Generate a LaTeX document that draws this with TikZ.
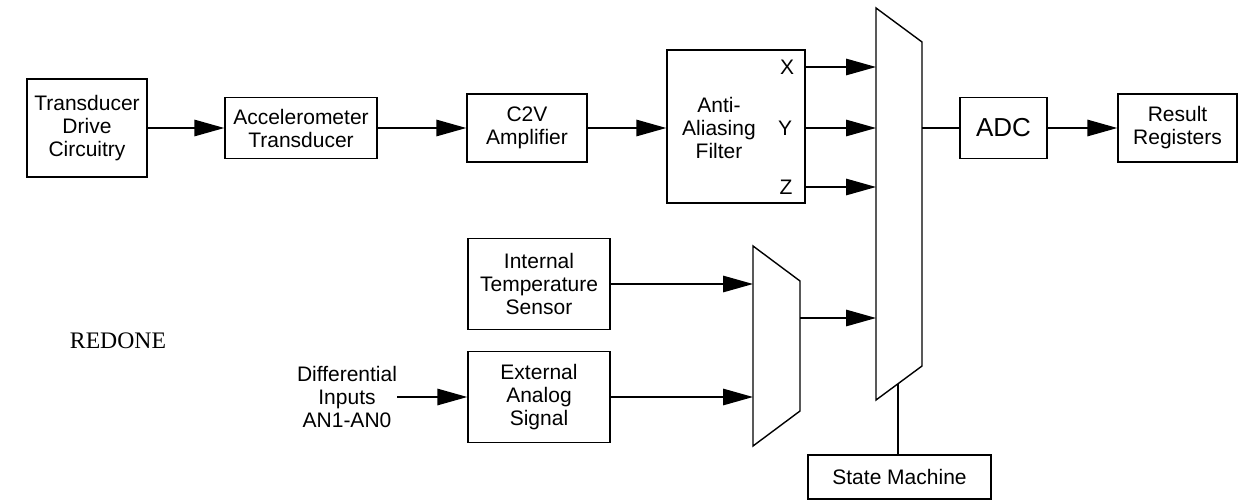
\documentclass[tikz,border=0pt]{standalone}
\usepackage{fontspec}
\setmainfont{Liberation Sans}
\newfontfamily\serifrm{Liberation Serif}
\usetikzlibrary{arrows.meta}
\begin{document}
\begin{tikzpicture}[x=1pt,y=-1pt,
  box/.style={draw,line width=1.4pt,inner sep=0pt,align=center,font=\fontsize{21}{23}\selectfont},
  lbl/.style={inner sep=0pt,align=center,font=\fontsize{21}{23}\selectfont},
  arr/.style={line width=1.4pt,-{Triangle[length=30pt,width=16.5pt]}},
  wire/.style={line width=1.4pt}]
\useasboundingbox (0,0) rectangle (1241,500);
% top chain
\node[box,minimum width=120pt,minimum height=98pt] (td) at (87,128) {Transducer\\Drive\\Circuitry};
\node[box,minimum width=152pt,minimum height=61pt] (acc) at (301,128) {Accelerometer\\Transducer};
\node[box,minimum width=120pt,minimum height=68pt] (c2v) at (527,128) {C2V\\Amplifier};
\node[box,minimum width=138pt,minimum height=153pt] (aaf) at (736,126.5) {};
\node[lbl] (aaftxt) at (719,128) {Anti-\\Aliasing\\Filter};
\node[lbl] (lx) at (787,67) {X};
\node[lbl] (ly) at (785,128) {Y};
\node[lbl] (lz) at (786,187) {Z};
\node[box,minimum width=87pt,minimum height=61pt,font=\fontsize{26}{28}\selectfont] (adc) at (1003.5,128) {ADC};
\node[box,minimum width=119pt,minimum height=68pt] (rr) at (1177.5,128) {Result\\Registers};
% lower
\node[box,minimum width=142pt,minimum height=91pt] (its) at (539,284) {Internal\\Temperature\\Sensor};
\node[box,minimum width=142pt,minimum height=91pt] (eas) at (539,397) {External\\Analog\\Signal};
\node[lbl] (diff) at (347,397) {Differential\\Inputs\\AN1-AN0};
\node[box,minimum width=183pt,minimum height=44pt] (sm) at (899.5,477) {State Machine};
\node[inner sep=0pt,font=\serifrm\fontsize{23.7}{26}\selectfont] (redone) at (118,341) {REDONE};
% big mux
\draw[wire] (876,8) -- (922,42) -- (922,366) -- (876,400) -- cycle;
\coordinate (bmX) at (876,67);
\coordinate (bmY) at (876,128);
\coordinate (bmZ) at (876,187);
\coordinate (bmT) at (876,318);
\coordinate (bmout) at (922,128);
\coordinate (bmbot) at (898,383.7);
% small mux
\draw[wire] (753,246) -- (800,281) -- (800,411) -- (753,446) -- cycle;
\coordinate (smA) at (753,284);
\coordinate (smB) at (753,397);
\coordinate (smout) at (800,318);
% connectors
\draw[arr] (td.east) -- (acc.west);
\draw[arr] (acc.east) -- (c2v.west);
\draw[arr] (c2v.east) -- (c2v.east -| aaf.west);
\draw[arr] (aaf.east |- bmX) -- (bmX);
\draw[arr] (aaf.east |- bmY) -- (bmY);
\draw[arr] (aaf.east |- bmZ) -- (bmZ);
\draw[wire] (bmout) -- (adc.west);
\draw[arr] (adc.east) -- (rr.west);
\draw[arr] (its.east) -- (smA);
\draw[arr] (eas.east) -- (smB);
\draw[arr] (diff.east) -- (eas.west);
\draw[arr] (smout) -- (bmT);
\draw[wire] (bmbot) -- (bmbot |- sm.north);
\end{tikzpicture}
\end{document}
